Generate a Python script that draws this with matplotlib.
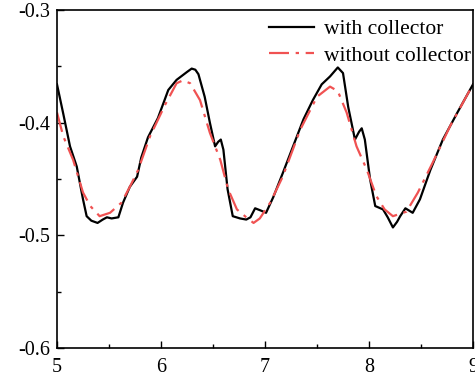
import numpy as np
import matplotlib
matplotlib.use('Agg')
import matplotlib.pyplot as plt
from matplotlib.ticker import MultipleLocator

# with collector
x_with = [5.0, 5.06, 5.125, 5.19, 5.25, 5.285, 5.33, 5.39, 5.44, 5.48, 5.525, 5.59,
          5.635, 5.70, 5.77, 5.81, 5.875, 5.97, 6.07, 6.15, 6.25, 6.295, 6.33, 6.36,
          6.42, 6.47, 6.52, 6.55, 6.575, 6.60, 6.64, 6.69, 6.76, 6.82, 6.86, 6.905,
          6.96, 7.01, 7.08, 7.17, 7.27, 7.37, 7.46, 7.545, 7.625, 7.70, 7.75, 7.80,
          7.865, 7.905, 7.93, 7.96, 8.01, 8.06, 8.135, 8.18, 8.23, 8.27, 8.30, 8.35,
          8.42, 8.49, 8.59, 8.71, 8.85, 9.0]
y_with = [-0.366, -0.392, -0.421, -0.439, -0.468, -0.483, -0.487, -0.489, -0.486, -0.484,
          -0.485, -0.484, -0.471, -0.457, -0.448, -0.431, -0.413, -0.396, -0.371, -0.362,
          -0.355, -0.352, -0.353, -0.357, -0.377, -0.400, -0.421, -0.417, -0.415, -0.424,
          -0.459, -0.483, -0.485, -0.486, -0.484, -0.476, -0.478, -0.480, -0.466, -0.445,
          -0.421, -0.397, -0.380, -0.366, -0.359, -0.351, -0.356, -0.386, -0.415, -0.408,
          -0.405, -0.415, -0.450, -0.474, -0.477, -0.484, -0.493, -0.488, -0.483, -0.476,
          -0.480, -0.468, -0.442, -0.415, -0.391, -0.366]

# without collector
x_without = [5.0, 5.06, 5.155, 5.25, 5.32, 5.41, 5.51, 5.62, 5.70, 5.78, 5.895, 6.04,
             6.15, 6.21, 6.28, 6.375, 6.47, 6.57, 6.645, 6.73, 6.82, 6.89, 6.95, 7.05,
             7.17, 7.34, 7.50, 7.625, 7.70, 7.785, 7.88, 7.98, 8.07, 8.15, 8.23, 8.36,
             8.47, 8.615, 8.78, 9.0]
y_without = [-0.391, -0.412, -0.433, -0.462, -0.474, -0.483, -0.480, -0.471, -0.457, -0.442,
             -0.412, -0.384, -0.365, -0.3625, -0.365, -0.380, -0.409, -0.433, -0.459, -0.477,
             -0.484, -0.489, -0.485, -0.471, -0.448, -0.406, -0.377, -0.368, -0.372, -0.391,
             -0.421, -0.442, -0.465, -0.477, -0.483, -0.479, -0.462, -0.435, -0.403, -0.366]

plt.rcParams['font.family'] = ['Liberation Serif', 'DejaVu Serif']

fig = plt.figure(figsize=(4.75, 3.72), dpi=100)
ax = fig.add_axes([57 / 475, 24 / 372, 416 / 475, 338 / 372])

ax.plot(x_with, y_with, color='black', lw=1.6, label='with collector')
ax.plot(x_without, y_without, color='#f05252', lw=1.6,
        linestyle=(0, (9, 3, 1.5, 3)), label='without collector')

ax.set_xlim(5, 9)
ax.set_ylim(-0.6, -0.3)
ax.xaxis.set_major_locator(MultipleLocator(1))
ax.xaxis.set_minor_locator(MultipleLocator(0.5))
ax.yaxis.set_major_locator(MultipleLocator(0.1))
ax.yaxis.set_minor_locator(MultipleLocator(0.05))
ax.yaxis.set_major_formatter(matplotlib.ticker.FuncFormatter(lambda v, p: f'{v:.1f}'))
ax.tick_params(which='both', direction='in', top=False, right=False, labelsize=14.5)
ax.tick_params(which='major', length=5, width=1)
ax.tick_params(which='minor', length=3, width=1)
ax.tick_params(axis='y', which='major', pad=5)
ax.tick_params(axis='x', which='major', pad=7)
for s in ax.spines.values():
    s.set_linewidth(1.2)

ax.legend(loc='upper right', bbox_to_anchor=(1.005, 0.985), frameon=False,
          fontsize=15.5, handlelength=2.1, handletextpad=0.45, labelspacing=0.3,
          borderpad=0.2, borderaxespad=0)

fig.savefig('out.png', dpi=100)
